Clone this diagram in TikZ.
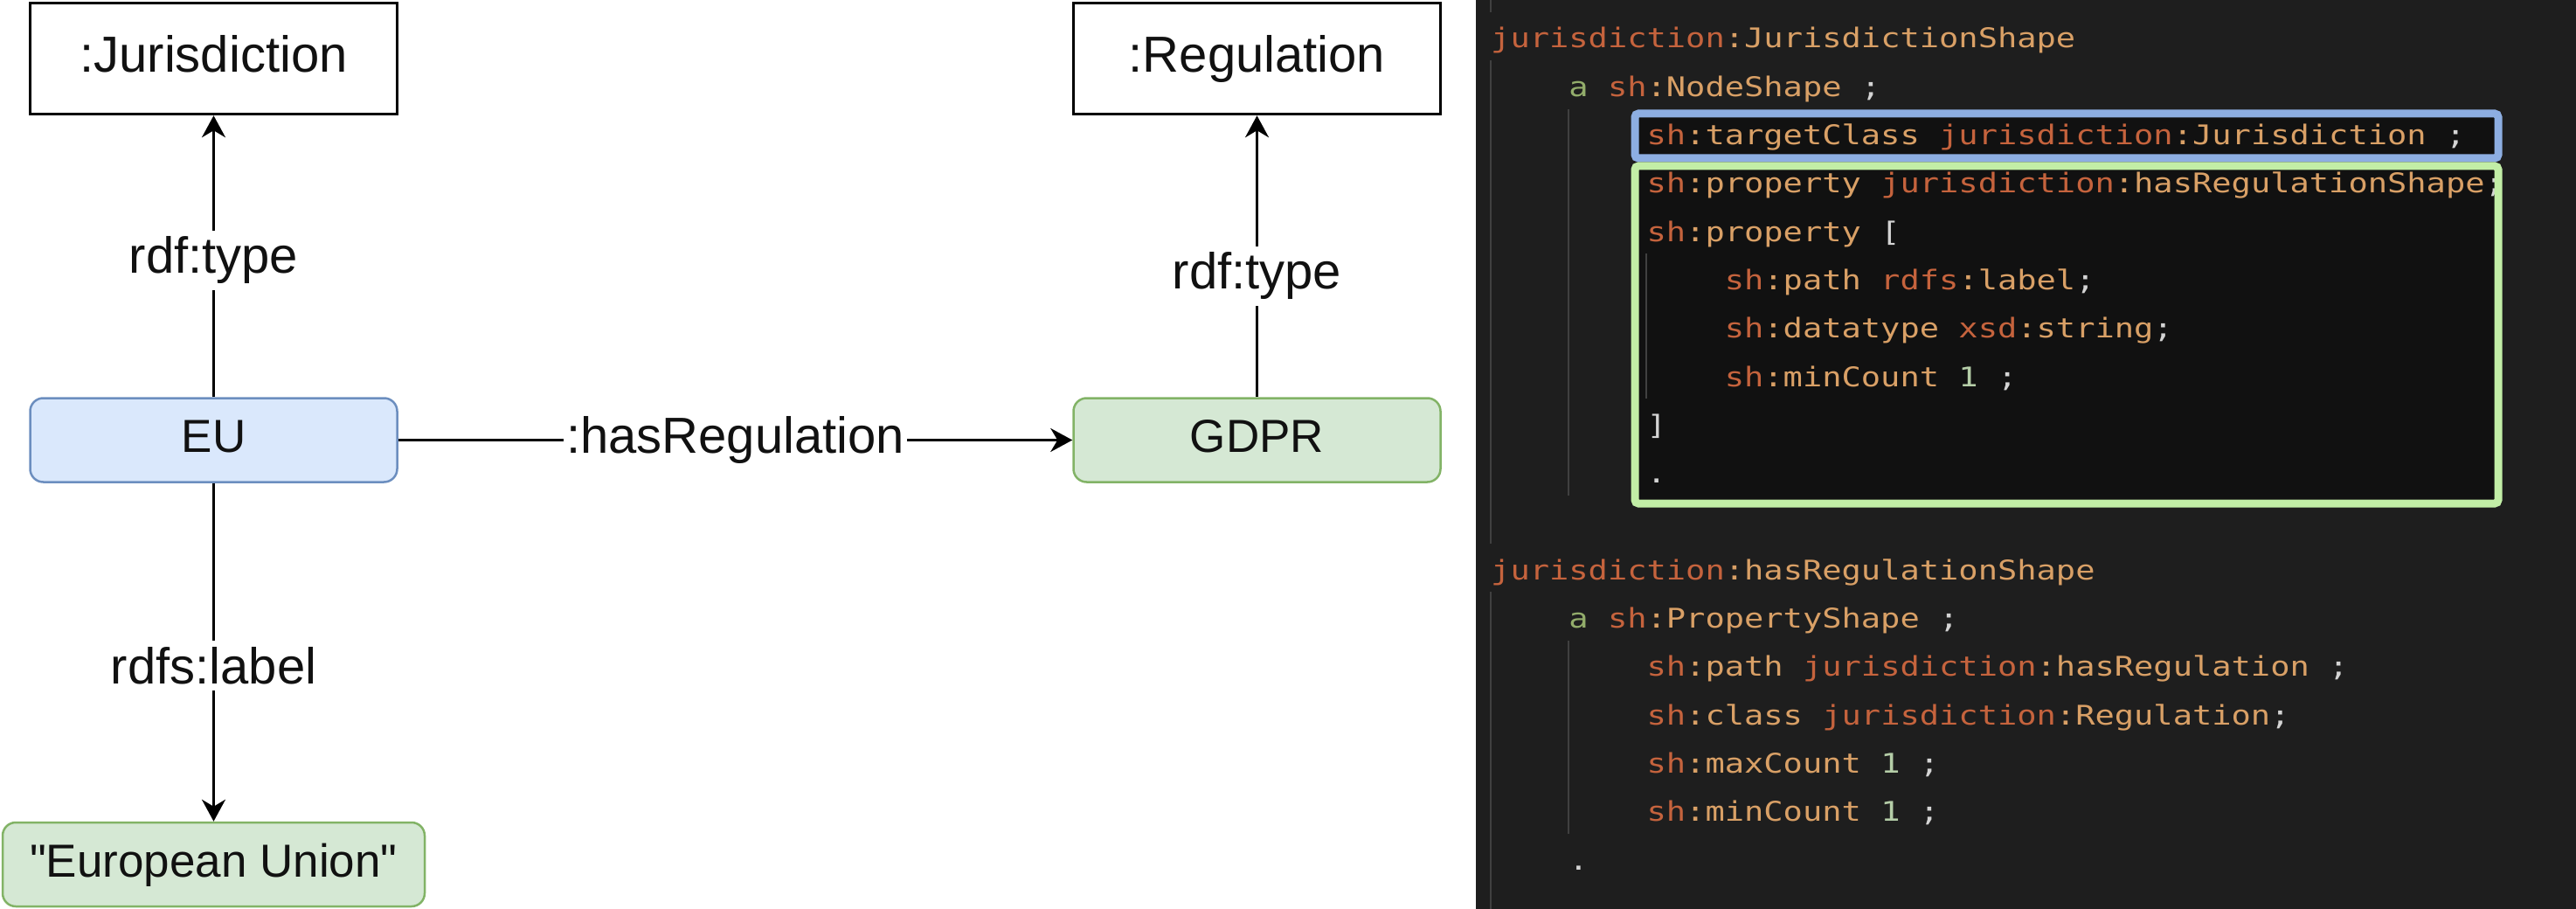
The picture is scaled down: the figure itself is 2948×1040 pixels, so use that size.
\documentclass[tikz,border=0pt]{standalone}
\usepackage{fontspec}
\setmainfont{Liberation Sans}[Ligatures=TeXOff]
\newfontfamily\codefont[FakeStretch=1.195]{DejaVu Sans Mono}
\usetikzlibrary{arrows.meta}
\definecolor{panel}{HTML}{1E1E1E}
\definecolor{boxin}{HTML}{111111}
\definecolor{guide}{HTML}{404040}
\definecolor{pfx}{HTML}{C5633D}
\definecolor{loc}{HTML}{D9A066}
\definecolor{kwa}{HTML}{93AD6B}
\definecolor{num}{HTML}{B5CEA8}
\definecolor{pun}{HTML}{D4D4D4}
\definecolor{hlblue}{HTML}{8DAEE2}
\definecolor{hlgreen}{HTML}{C2EEA6}
\definecolor{eufill}{HTML}{DAE8FC}
\definecolor{eudraw}{HTML}{6C8EBF}
\definecolor{grfill}{HTML}{D5E8D4}
\definecolor{grdraw}{HTML}{82B366}
\definecolor{ink}{HTML}{111111}
\newcommand\cPf[1]{\textcolor{pfx}{#1}}
\newcommand\cLn[1]{\textcolor{loc}{#1}}
\newcommand\cKw[1]{\textcolor{kwa}{#1}}
\newcommand\cNum[1]{\textcolor{num}{#1}}
\newcommand\cPu[1]{\textcolor{pun}{#1}}
\begin{document}
\begin{tikzpicture}[x=1pt,y=-1pt,
  classbox/.style={draw=black, line width=3.5pt, fill=white, minimum width=420pt,
    minimum height=127pt, inner sep=0pt, text=ink, font=\fontsize{58}{60}\selectfont,
    text height=41.8pt, text depth=10.4pt},
  instbox/.style={line width=2.5pt, rounded corners=15pt, minimum height=96pt, text=ink,
    inner sep=0pt, font=\fontsize{53}{55}\selectfont, text height=38.2pt, text depth=9.5pt},
  eubox/.style={instbox, draw=eudraw, fill=eufill},
  litbox/.style={instbox, draw=grdraw, fill=grfill},
  arr/.style={draw=black, line width=3pt, -{Stealth[length=25pt,width=27pt,inset=8pt]}},
  lbl/.style={fill=white, inner xsep=3pt, inner ysep=7pt, text=ink,
    font=\fontsize{58}{60}\selectfont},
  code/.style={anchor=base west, inner sep=0pt, font=\codefont\fontsize{31}{31}\selectfont},
  guideline/.style={draw=guide, line width=2pt}
]
\useasboundingbox (0,0) rectangle (2948,1040);
\fill[white] (0,0) rectangle (1689,1040);
\fill[panel] (1689,0) rectangle (2948,1040);

% ---------- left diagram ----------
\node[classbox] (jur) at (244.5,67) {:Jurisdiction};
\node[classbox] (reg) at (1438.5,67) {:Regulation};
\node[eubox, minimum width=420pt] (eu) at (244.5,503.5) {EU};
\node[litbox, minimum width=420pt] (gdpr) at (1438.5,503.5) {GDPR};
\node[litbox, minimum width=483pt] (eun) at (244.5,989) {"European Union"};

\draw[arr] (eu) -- node[lbl, pos=0.486] (t1) {rdf:type} (jur);
\draw[arr] (gdpr) -- node[lbl, pos=0.43] (t2) {rdf:type} (reg);
\draw[arr] (eu) -- node[lbl, pos=0.5] (t3) {:hasRegulation} (gdpr);
\draw[arr] (eu) -- node[lbl, pos=0.54] (t4) {rdfs:label} (eun);

% ---------- code panel ----------
\draw[guideline] (1706,0) -- (1706,14);
\draw[guideline] (1706,69) -- (1706,622);
\draw[guideline] (1706,677) -- (1706,1040);
\draw[guideline] (1795.2,125) -- (1795.2,567);
\draw[guideline] (1795.2,733) -- (1795.2,954);

\fill[boxin, rounded corners=4pt] (1871,130) rectangle (2859,181);
\fill[boxin, rounded corners=4pt] (1871,190) rectangle (2859,576);
\draw[guideline] (1884.4,290) -- (1884.4,456);

\node[code] (c0) at (1706,55) {\cPf{jurisdiction}\cLn{:JurisdictionShape}};
\node[code] (c1) at (1795.2,110.3) {\cKw{a} \cPf{sh}\cLn{:NodeShape} \cPu{;}};
\node[code] (c2) at (1884.4,165.6) {\cPf{sh}\cLn{:targetClass} \cPf{jurisdiction}\cLn{:Jurisdiction} \cPu{;}};
\node[code] (c3) at (1884.4,220.9) {\cPf{sh}\cLn{:property} \cPf{jurisdiction}\cLn{:hasRegulationShape}\cPu{;}};
\node[code] (c4) at (1884.4,276.2) {\cPf{sh}\cLn{:property} \cPu{[}};
\node[code] (c5) at (1973.6,331.5) {\cPf{sh}\cLn{:path} \cPf{rdfs}\cLn{:label}\cPu{;}};
\node[code] (c6) at (1973.6,386.8) {\cPf{sh}\cLn{:datatype} \cPf{xsd}\cLn{:string}\cPu{;}};
\node[code] (c7) at (1973.6,442.1) {\cPf{sh}\cLn{:minCount} \cNum{1} \cPu{;}};
\node[code] (c8) at (1884.4,497.4) {\cPu{]}};
\node[code] (c9) at (1884.4,552.7) {\cPu{.}};
\node[code] (c11) at (1706,663.3) {\cPf{jurisdiction}\cLn{:hasRegulationShape}};
\node[code] (c12) at (1795.2,718.6) {\cKw{a} \cPf{sh}\cLn{:PropertyShape} \cPu{;}};
\node[code] (c13) at (1884.4,773.9) {\cPf{sh}\cLn{:path} \cPf{jurisdiction}\cLn{:hasRegulation} \cPu{;}};
\node[code] (c14) at (1884.4,829.2) {\cPf{sh}\cLn{:class} \cPf{jurisdiction}\cLn{:Regulation}\cPu{;}};
\node[code] (c15) at (1884.4,884.5) {\cPf{sh}\cLn{:maxCount} \cNum{1} \cPu{;}};
\node[code] (c16) at (1884.4,939.8) {\cPf{sh}\cLn{:minCount} \cNum{1} \cPu{;}};
\node[code] (c17) at (1795.2,995.1) {\cPu{.}};

\draw[draw=hlblue, line width=9pt, rounded corners=4pt] (1871,130) rectangle (2859,181);
\draw[draw=hlgreen, line width=9pt, rounded corners=4pt] (1871,190) rectangle (2859,576);
\end{tikzpicture}
\end{document}
